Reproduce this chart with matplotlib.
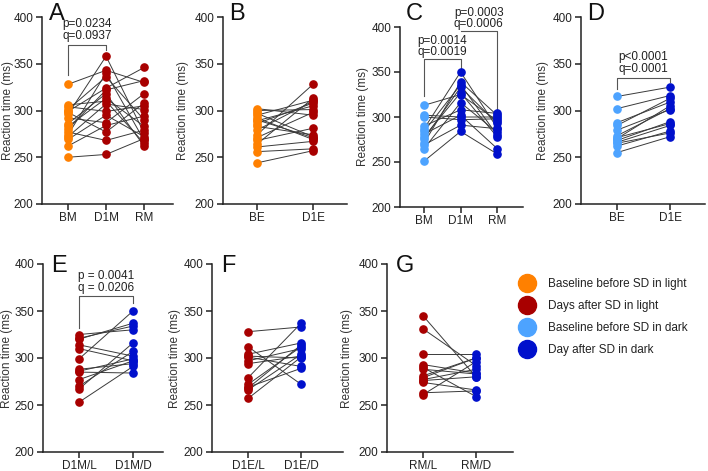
import matplotlib
matplotlib.use("Agg")
import matplotlib.pyplot as plt
from matplotlib import transforms
from matplotlib.lines import Line2D

plt.rcParams['font.family'] = ['Liberation Sans', 'DejaVu Sans']

ORANGE = '#FF8000'
DARKRED = '#A80000'
LIGHTBLUE = '#4DA3FF'
BLUE = '#0010CC'

# Panel A: light, morning
A_BM  = [328, 306, 304, 301, 299, 296, 292, 286, 283, 280, 277, 272, 269, 262, 250, 298, 274]
A_D1M = [343, 310, 299, 336, 324, 358, 287, 318, 313, 322, 268, 307, 295, 284, 253, 277, 340]
A_RM  = [330, 265, 305, 290, 346, 276, 318, 262, 283, 332, 279, 301, 272, 294, 270, 308, 268]
# Panel B: light, evening
B_BE  = [302, 300, 297, 295, 292, 289, 286, 283, 274, 271, 268, 264, 261, 256, 244, 290, 279]
B_D1E = [295, 301, 272, 311, 269, 305, 308, 274, 328, 298, 281, 313, 267, 259, 257, 271, 310]
# Panel C: dark, morning
C_BM  = [313, 302, 300, 287, 284, 281, 276, 271, 269, 265, 251, 290, 278]
C_D1M = [325, 300, 297, 350, 336, 302, 333, 339, 291, 316, 284, 308, 327]
C_RM  = [296, 300, 298, 288, 280, 265, 293, 302, 287, 283, 259, 304, 278]
# Panel D: dark, evening
D_BE  = [315, 302, 287, 284, 273, 271, 268, 265, 262, 255, 270, 266, 279]
D_D1E = [325, 316, 309, 313, 302, 286, 288, 276, 278, 272, 305, 284, 301]
# Panel E-G: light vs dark
E_L = [325, 321, 314, 310, 299, 288, 286, 285, 277, 270, 267, 253, 320]
E_D = [330, 334, 302, 297, 350, 294, 299, 284, 297, 307, 316, 291, 337]
F_L = [328, 312, 304, 301, 297, 294, 279, 272, 269, 266, 257, 302, 268]
F_D = [333, 272, 316, 291, 310, 302, 337, 312, 289, 304, 301, 300, 314]
G_L = [345, 331, 304, 293, 290, 281, 277, 274, 263, 261, 279, 276, 288]
G_D = [280, 292, 304, 284, 259, 300, 288, 266, 265, 296, 300, 280, 283]

LEGEND_LABELS = ['Baseline before SD in light', 'Days after SD in light',
                 'Baseline before SD in dark', 'Day after SD in dark']
LEGEND_COLORS = [ORANGE, DARKRED, LIGHTBLUE, BLUE]

W, H = 708, 471
fig = plt.figure(figsize=(W / 100, H / 100), dpi=100)


def add_axes(left, top, right, bottom):
    return fig.add_axes([left / W, 1 - bottom / H, (right - left) / W, (bottom - top) / H])


def paired(box, cats, groups, colors, xlim, label_x, letter, letter_pos):
    ax = add_axes(*box)
    n = len(groups[0])
    for i in range(n):
        ax.plot(range(len(groups)), [g[i] for g in groups], color='#3a3a3a', lw=0.7, zorder=1)
    for j, (g, c) in enumerate(zip(groups, colors)):
        ax.plot([j] * len(g), g, 'o', color=c, ms=5.2, mec=c, zorder=2, clip_on=False)
    ax.set_xlim(*xlim)
    ax.set_ylim(200, 400)
    ax.set_yticks(range(200, 401, 50))
    ax.set_xticks(range(len(cats)))
    ax.set_xticklabels(cats)
    for s in ('top', 'right'):
        ax.spines[s].set_visible(False)
    for s in ('left', 'bottom'):
        ax.spines[s].set_linewidth(1.1)
        ax.spines[s].set_color('#222222')
    ax.tick_params(direction='out', length=4, width=1.1, color='#222222',
                   labelsize=8.5, labelcolor='#222222', pad=2)
    ax.set_ylabel('Reaction time (ms)', fontsize=8.5, color='#333333')
    tr = transforms.blended_transform_factory(fig.transFigure, ax.transAxes)
    ax.yaxis.set_label_coords(label_x / W, 0.5, transform=tr)
    fig.text(letter_pos[0] / W, 1 - letter_pos[1] / H, letter, fontsize=17,
             ha='left', va='top', color='#111111')
    return ax


def bracket(ax, x0, x1, top, y0, y1, texts):
    ax.plot([x0, x0, x1, x1], [y0, top, top, y1], color='#555555', lw=0.8,
            clip_on=False, zorder=0)
    for t, ty in texts:
        ax.text((x0 + x1) / 2, ty, t, ha='center', va='center', fontsize=8.5,
                color='#222222')


axA = paired((42, 17, 173, 204), ['BM', 'D1M', 'RM'], [A_BM, A_D1M, A_RM],
             [ORANGE, DARKRED, DARKRED], (-0.684, 2.76), 14, 'A', (49, 3))
bracket(axA, 0, 1, 370, 338, 365, [('p=0.0234', 393), ('q=0.0937', 380)])

paired((223, 17, 347, 204), ['BE', 'D1E'], [B_BE, B_D1E],
       [ORANGE, DARKRED], (-0.607, 1.607), 189, 'B', (229, 3))

axC = paired((400, 27, 523, 207), ['BM', 'D1M', 'RM'], [C_BM, C_D1M, C_RM],
             [LIGHTBLUE, BLUE, BLUE], (-0.66, 2.71), 369, 'C', (406, 3))
bracket(axC, 0, 1, 364, 323, 354, [('p=0.0014', 384), ('q=0.0019', 372)])
bracket(axC, 1, 2, 396, 396, 307, [('p=0.0003', 416), ('q=0.0006', 403.5)])

axD = paired((581, 17, 705, 204), ['BE', 'D1E'], [D_BE, D_D1E],
             [LIGHTBLUE, BLUE], (-0.68, 1.66), 549, 'D', (587, 3))
bracket(axD, 0, 1, 335, 323, 330, [('p<0.0001', 357), ('q=0.0001', 344)])

axE = paired((43, 264, 163, 452), ['D1M/L', 'D1M/D'], [E_L, E_D],
             [DARKRED, BLUE], (-0.667, 1.556), 13, 'E', (51, 255))
bracket(axE, 0, 1, 365.5, 332, 358, [('p = 0.0041', 387.5), ('q = 0.0206', 374.4)])

paired((212, 264, 343, 452), ['D1E/L', 'D1E/D'], [F_L, F_D],
       [DARKRED, BLUE], (-0.68, 1.79), 181, 'F', (221, 255))

paired((387, 264, 513, 452), ['RM/L', 'RM/D'], [G_L, G_D],
       [DARKRED, BLUE], (-0.68, 1.70), 353, 'G', (396, 255))

handles = [Line2D([], [], ls='none', marker='o', ms=13, color=c) for c in LEGEND_COLORS]
fig.legend(handles, LEGEND_LABELS, loc='upper left', bbox_to_anchor=(521 / W, 1 - 278 / H),
           frameon=False, fontsize=8.5, handlelength=1.0, handletextpad=1.3,
           labelspacing=0.86, borderpad=0, borderaxespad=0, labelcolor='#222222')

fig.savefig('out.png', dpi=100)
